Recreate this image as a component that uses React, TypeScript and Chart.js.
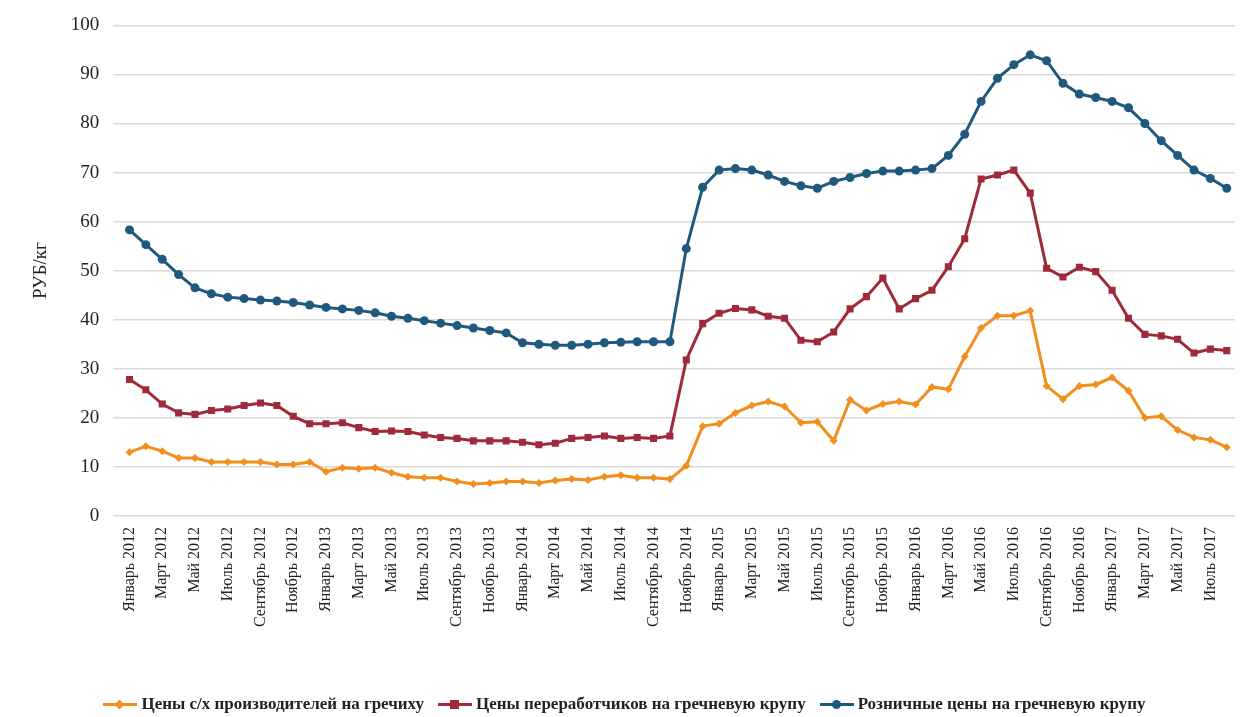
import { useEffect, useRef } from 'react';
import { Chart, registerables } from 'chart.js';

Chart.register(...registerables);

const MONTHS = ['Январь', 'Февраль', 'Март', 'Апрель', 'Май', 'Июнь', 'Июль', 'Август', 'Сентябрь', 'Октябрь', 'Ноябрь', 'Декабрь'];
const LABELS: string[] = [];
for (let y = 2012; y <= 2017; y++) {
  for (const m of MONTHS) {
    if (LABELS.length < 68) LABELS.push(`${m} ${y}`);
  }
}

const PRODUCER = [
  13.0, 14.2, 13.2, 11.8, 11.8, 11.0, 11.0, 11.0, 11.0, 10.5, 10.5, 11.0, 9.0, 9.8, 9.6, 9.8, 8.8, 8.0, 7.8, 7.8,
  7.0, 6.5, 6.7, 7.0, 7.0, 6.7, 7.2, 7.5, 7.3, 8.0, 8.3, 7.8, 7.8, 7.5,
  10.2, 18.3, 18.8, 21.0, 22.5, 23.3, 22.3, 19.0, 19.2, 15.3, 23.7, 21.5, 22.8, 23.3, 22.7, 26.3, 25.8, 32.5,
  38.3, 40.8, 40.8, 41.8, 26.5, 23.8, 26.5, 26.8, 28.2, 25.5, 20.0, 20.3, 17.5, 16.0, 15.5, 14.0,
];
const PROCESSOR = [
  27.8, 25.7, 22.8, 21.0, 20.7, 21.5, 21.8, 22.5, 23.0, 22.5, 20.3, 18.8, 18.8, 19.0, 18.0, 17.2, 17.3, 17.2, 16.5, 16.0,
  15.8, 15.3, 15.3, 15.3, 15.0, 14.5, 14.8, 15.8, 16.0, 16.3, 15.8, 16.0, 15.8, 16.3,
  31.8, 39.2, 41.3, 42.3, 42.0, 40.7, 40.3, 35.8, 35.5, 37.5, 42.2, 44.7, 48.5, 42.2, 44.3, 46.0, 50.8, 56.5,
  68.7, 69.5, 70.5, 65.8, 50.5, 48.7, 50.7, 49.8, 46.0, 40.3, 37.0, 36.7, 36.0, 33.2, 34.0, 33.7,
];
const RETAIL = [
  58.3, 55.3, 52.3, 49.2, 46.5, 45.3, 44.6, 44.3, 44.0, 43.8, 43.5, 43.0, 42.5, 42.2, 41.9, 41.4, 40.7, 40.3, 39.8, 39.3,
  38.8, 38.3, 37.8, 37.3, 35.3, 35.0, 34.8, 34.8, 35.0, 35.3, 35.4, 35.5, 35.5, 35.5,
  54.5, 67.0, 70.5, 70.8, 70.5, 69.5, 68.2, 67.3, 66.8, 68.2, 69.0, 69.8, 70.3, 70.3, 70.5, 70.8, 73.5, 77.8,
  84.5, 89.2, 92.0, 94.0, 92.8, 88.2, 86.0, 85.3, 84.5, 83.2, 80.0, 76.5, 73.5, 70.5, 68.8, 66.8,
];

const SERIES = [
  { label: 'Цены с/х производителей на гречиху', data: PRODUCER, color: '#f28e1c', style: 'rectRot', r: 4 },
  { label: 'Цены переработчиков на гречневую крупу', data: PROCESSOR, color: '#9e2a3a', style: 'rect', r: 5 },
  { label: 'Розничные цены на гречневую крупу', data: RETAIL, color: '#1f5a7e', style: 'circle', r: 4.5 },
];

const FONT = '"Liberation Serif", "Times New Roman", serif';

function Marker({ color, style }: { color: string; style: string }) {
  const shape: React.CSSProperties = { position: 'absolute', background: color, left: 12, top: 3, width: 9, height: 9 };
  if (style === 'circle') shape.borderRadius = '50%';
  if (style === 'rectRot') { shape.transform = 'rotate(45deg)'; shape.width = 7; shape.height = 7; shape.left = 13; shape.top = 4; }
  return (
    <span style={{ position: 'relative', display: 'inline-block', width: 34, height: 15, marginRight: 4 }}>
      <span style={{ position: 'absolute', left: 0, right: 0, top: 6, height: 3, background: color }} />
      <span style={shape} />
    </span>
  );
}

export default function App() {
  const canvasRef = useRef<HTMLCanvasElement>(null);

  useEffect(() => {
    document.body.style.margin = '0';
    if (!canvasRef.current) return;
    const chart = new Chart(canvasRef.current, {
      type: 'line',
      data: {
        labels: LABELS,
        datasets: SERIES.map(s => ({
          label: s.label, data: s.data, borderColor: s.color, backgroundColor: s.color,
          pointStyle: s.style as any, pointRadius: s.r, pointBorderWidth: 0, borderWidth: 3, tension: 0,
        })),
      },
      options: {
        responsive: false,
        animation: false,
        layout: { padding: { left: 26, right: 8, top: 16, bottom: 87 } },
        plugins: { tooltip: { enabled: false }, legend: { display: false } },
        scales: {
          x: {
            offset: true,
            grid: { display: false },
            border: { display: false },
            ticks: {
              autoSkip: false, maxRotation: 90, minRotation: 90, color: '#222',
              font: { family: FONT, size: 16 },
              callback: (_v, i) => (i % 2 === 0 ? LABELS[i] : ''),
            },
          },
          y: {
            min: 0, max: 100,
            grid: { color: '#d9d9d9', lineWidth: 1.5 },
            border: { display: false },
            ticks: { stepSize: 10, color: '#222', font: { family: FONT, size: 19 }, padding: 14 },
            title: { display: true, text: 'РУБ/кг', color: '#222', font: { family: FONT, size: 19 } },
          },
        },
      },
    });
    return () => { chart.destroy(); };
  }, []);

  return (
    <div style={{ position: 'relative', width: 1249, height: 717 }}>
      <canvas ref={canvasRef} width={1249} height={717} style={{ display: 'block' }} />
      <div style={{
        position: 'absolute', left: 0, right: 0, top: 694, display: 'flex', justifyContent: 'center', gap: 14,
        fontFamily: FONT, fontWeight: 'bold', fontSize: 17, color: '#222', whiteSpace: 'nowrap',
      }}>
        {SERIES.map(s => (
          <span key={s.label} style={{ display: 'flex', alignItems: 'center' }}>
            <Marker color={s.color} style={s.style} />{s.label}
          </span>
        ))}
      </div>
    </div>
  );
}
